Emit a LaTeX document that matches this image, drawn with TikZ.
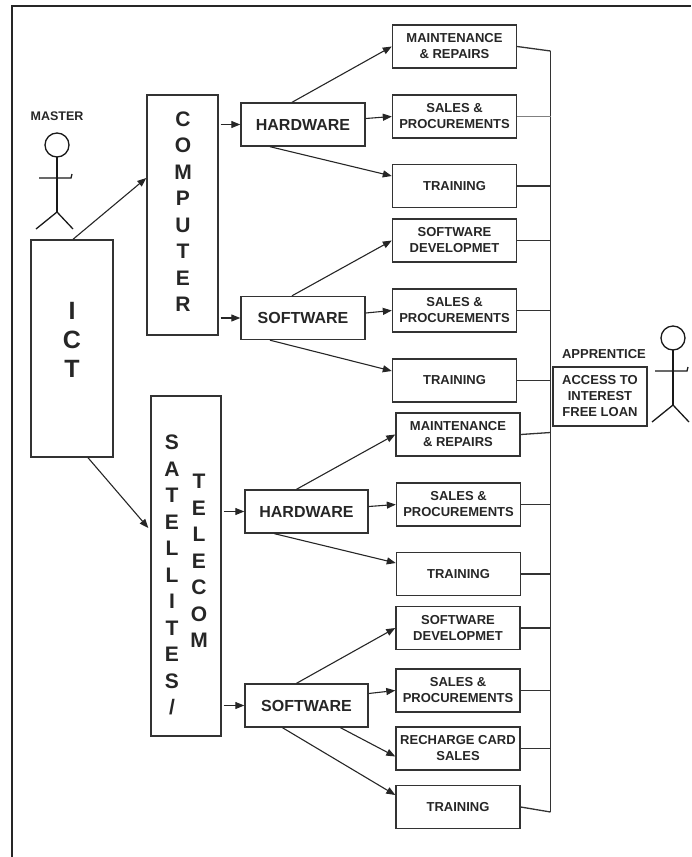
\documentclass[tikz,border=0pt]{standalone}
\usepackage{fontspec}
\setmainfont{Liberation Sans}
\usetikzlibrary{arrows.meta}

% stick figure, head centre at (#1,#2)
\newcommand{\stickman}[2]{%
  \draw[man] (#1,#2) circle[radius=12pt];
  \draw[man] (#1,#2+12) -- (#1,#2+67);
  \draw[man] (#1-18,#2+33) -- (#1+14,#2+33) -- (#1+15,#2+29);
  \draw[man] (#1-21,#2+84) -- (#1,#2+67) -- (#1+16,#2+84);
}

\begin{document}
\begin{tikzpicture}[x=1pt,y=-1pt,>={Triangle[length=9pt,width=7pt]},
    every node/.style={text=black!85},
    font=\bfseries\fontsize{13}{16}\selectfont,
    box/.style={draw=black!80,line width=1.4pt,inner sep=0pt,align=center},
    item/.style={box,minimum width=124pt,minimum height=43pt},
    branch/.style={box,minimum width=124pt,minimum height=43pt,font=\bfseries\fontsize{16}{19}\selectfont},
    tall/.style={box},
    letters/.style={align=center,inner sep=0pt,font=\bfseries\fontsize{21}{26.5}\selectfont},
    arr/.style={->,draw=black!85,line width=1.1pt},
    link/.style={draw=black!80,line width=1.3pt},
    man/.style={draw=black!90,line width=1.3pt}]
  \useasboundingbox (0,0) rectangle (691,857);
  \draw[line width=2pt,black!85] (12,857) -- (12,6) -- (691,6);

  % tall boxes
  \node[tall,minimum width=82pt,minimum height=217pt] (ict) at (72,348.5) {};
  \node[letters,font=\bfseries\fontsize{25}{29}\selectfont] (icttxt) at (72,340) {I\\C\\T};
  \node[tall,minimum width=71pt,minimum height=240pt] (comp) at (182.5,215) {};
  \node[letters] (comptxt) at (183,211.5) {C\\O\\M\\P\\U\\T\\E\\R};
  \node[tall,minimum width=70pt,minimum height=340pt] (sat) at (186,566) {};
  \node[letters] (sattxt) at (172,575) {S\\A\\T\\E\\L\\L\\I\\T\\E\\S\\/};
  \node[letters] (teltxt) at (199,561) {T\\E\\L\\E\\C\\O\\M};

  % branches
  \node[branch] (hw1) at (303,124.5) {HARDWARE};
  \node[branch] (sw1) at (303,318) {SOFTWARE};
  \node[branch,minimum width=123pt] (hw2) at (306.5,511.5) {HARDWARE};
  \node[branch,minimum width=123pt] (sw2) at (306.5,705.5) {SOFTWARE};

  % items
  \node[item] (m1) at (454.5,46.5) {MAINTENANCE\\\& REPAIRS};
  \node[item] (s1) at (454.5,116.5) {SALES \&\\PROCUREMENTS};
  \node[item] (t1) at (454.5,186) {TRAINING};
  \node[item] (d1) at (454.5,240.5) {SOFTWARE\\DEVELOPMET};
  \node[item] (s2) at (454.5,310.5) {SALES \&\\PROCUREMENTS};
  \node[item] (t2) at (454.5,380.5) {TRAINING};
  \node[item] (m2) at (458,434.5) {MAINTENANCE\\\& REPAIRS};
  \node[item] (s3) at (458.5,504.5) {SALES \&\\PROCUREMENTS};
  \node[item] (t3) at (458.5,574) {TRAINING};
  \node[item] (d2) at (458,628) {SOFTWARE\\DEVELOPMET};
  \node[item] (s4) at (458,690.5) {SALES \&\\PROCUREMENTS};
  \node[item] (r1) at (458,748.5) {RECHARGE CARD\\SALES};
  \node[item] (t4) at (458,807) {TRAINING};

  % apprentice side
  \node[box,minimum width=94pt,minimum height=59pt] (acc) at (600,396.5) {ACCESS TO\\INTEREST\\FREE LOAN};
  \node (apprlbl) at (604,354) {APPRENTICE};
  \node[font=\bfseries\fontsize{12.5}{15}\selectfont] (mstlbl) at (57,116) {MASTER};
  \stickman{57}{145}
  \stickman{673}{338}

  % arrows
  \draw[arr] ([xshift=1pt]ict.north) -- ([yshift=37pt]comp.west);
  \draw[arr] ([xshift=16pt]ict.south) -- ([yshift=38pt,xshift=-2pt]sat.west);
  \draw[arr,shorten <=2pt] (comp.east |- hw1.west) -- (hw1.west);
  \draw[arr,shorten <=2pt] (comp.east |- sw1.west) -- (sw1.west);
  \draw[arr,shorten <=2pt] (sat.east |- hw2.west) -- (hw2.west);
  \draw[arr,shorten <=2pt] (sat.east |- sw2.west) -- (sw2.west);

  \draw[arr] ([xshift=-11pt]hw1.north) -- (m1.west);
  \draw[arr] ([yshift=6pt]hw1.east) -- (s1.west);
  \draw[arr] ([xshift=-33pt]hw1.south) -- ([yshift=10pt]t1.west);
  \draw[arr] ([xshift=-11pt]sw1.north) -- (d1.west);
  \draw[arr] ([yshift=5pt]sw1.east) -- (s2.west);
  \draw[arr] ([xshift=-33pt]sw1.south) -- ([yshift=9.5pt]t2.west);
  \draw[arr] ([xshift=-10pt]hw2.north) -- (m2.west);
  \draw[arr] ([yshift=5pt]hw2.east) -- (s3.west);
  \draw[arr] ([xshift=-32pt]hw2.south) -- ([yshift=11pt]t3.west);
  \draw[arr] ([xshift=-10pt]sw2.north) -- (d2.west);
  \draw[arr] ([yshift=12pt]sw2.east) -- (s4.west);
  \draw[arr] ([xshift=34pt]sw2.south) -- ([yshift=-8pt]r1.west);
  \draw[arr] ([xshift=-24pt]sw2.south) -- ([yshift=12pt]t4.west);

  % bus to the apprentice
  \coordinate (busT) at (550.5,51);
  \coordinate (busB) at (550.5,812);
  \draw[link] (busT) -- (busB);
  \draw[link] (m1.east) -- (busT);
  \draw[link,line width=0.6pt,black!50] (s1.east) -- (s1.east -| busT);
  \foreach \n in {t1,d1,s2,t2,s3,t3,d2,s4,r1}
    \draw[link] (\n.east) -- (\n.east -| busT);
  \draw[link] (m2.east) -- ([yshift=2pt]m2.east -| busT);
  \draw[link] (t4.east) -- (busB);
\end{tikzpicture}
\end{document}
